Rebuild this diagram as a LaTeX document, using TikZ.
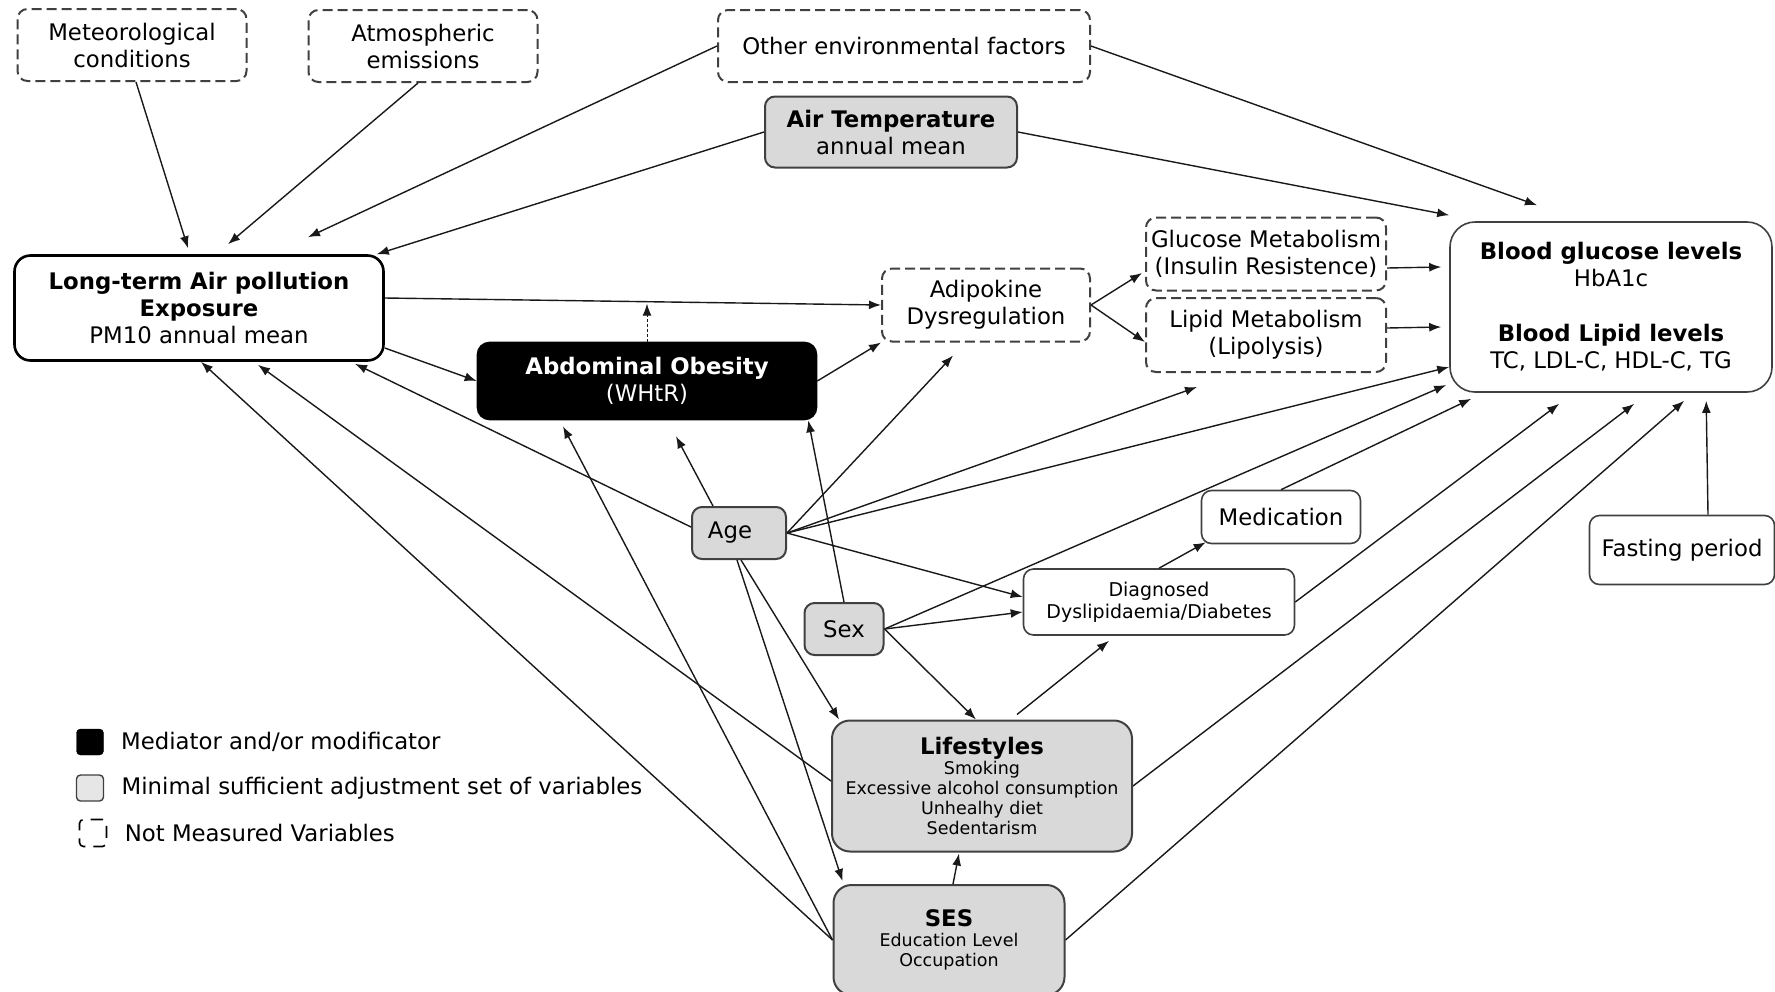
\documentclass[tikz,border=0pt]{standalone}
\usepackage{fontspec}
\setmainfont{DejaVu Sans}
\usetikzlibrary{arrows.meta,positioning,calc}
\definecolor{boxgrey}{HTML}{D9D9D9}
\definecolor{keygrey}{HTML}{E6E6E6}
\definecolor{edgegrey}{HTML}{404040}
\newcommand{\itemfont}{\fontsize{17.5}{20}\selectfont}
\newcommand{\titlefont}{\fontsize{22.8}{27}\selectfont}

\begin{document}
\begin{tikzpicture}[x=1pt, y=-1pt, font=\titlefont,
    var/.style={draw=edgegrey, line width=1.6pt, rounded corners=10pt, align=center, inner sep=0pt},
    adjvar/.style={var, fill=boxgrey, line width=2pt},
    unmeas/.style={var, line width=2pt, dash pattern=on 10pt off 5pt},
    arr/.style={-{Latex[length=12pt,width=9pt]}, line width=1.4pt, draw=black!90}]

	\useasboundingbox (0,0) rectangle (1775,991);

	% variables
	\node[unmeas, minimum width=229pt, minimum height=72pt] (met) at (132,45) {Meteorological\\conditions};
	\node[unmeas, minimum width=229pt, minimum height=72pt] (atm) at (423,46) {Atmospheric\\emissions};
	\node[unmeas, minimum width=372pt, minimum height=72pt] (other) at (904,46) {Other environmental factors};
	\node[adjvar, minimum width=252pt, minimum height=71pt] (temp) at (891,132) {\textbf{Air Temperature}\\annual mean};
	\node[var, draw=black, line width=2.6pt, rounded corners=16pt, minimum width=369pt, minimum height=105pt] (lt) at (199,308) {\textbf{Long-term Air pollution}\\\textbf{Exposure}\\PM10 annual mean};
	\node[var, fill=black, draw=black, text=white, rounded corners=12pt, minimum width=339pt, minimum height=77pt] (ao) at (647,381) {\textbf{Abdominal Obesity}\\(WHtR)};
	\node[unmeas, minimum width=208pt, minimum height=73pt] (adip) at (986,305) {Adipokine\\Dysregulation};
	\node[unmeas, minimum width=240pt, minimum height=73pt] (gm) at (1266,254) {Glucose Metabolism\\(Insulin Resistence)};
	\node[unmeas, minimum width=240pt, minimum height=74pt] (lm) at (1266,335) {Lipid Metabolism\\(Lipolysis)};
	\node[var, rounded corners=25pt, minimum width=322pt, minimum height=170pt] (blood) at (1611,307) {\textbf{Blood glucose levels}\\HbA1c\\[28pt]\textbf{Blood Lipid levels}\\TC, LDL-C, HDL-C, TG};
	\node[adjvar, minimum width=94pt, minimum height=52pt] (age) at (739,533) {Age\hspace*{18pt}};
	\node[adjvar, minimum width=79pt, minimum height=52pt] (sex) at (844,629) {Sex};
	\node[var, minimum width=159pt, minimum height=53pt] (med) at (1281,517) {Medication};
	\node[var, minimum width=271pt, minimum height=66pt, font=\fontsize{19}{22}\selectfont] (diag) at (1159,602) {Diagnosed\\Dyslipidaemia/Diabetes};
	\node[var, minimum width=185pt, minimum height=69pt] (fast) at (1682,550) {Fasting period};
	\node[adjvar, rounded corners=18pt, minimum width=300pt, minimum height=131pt, font=\itemfont] (life) at (982,786) {{\titlefont\textbf{Lifestyles}}\\Smoking\\Excessive alcohol consumption\\Unhealhy diet\\Sedentarism};
	\node[adjvar, rounded corners=18pt, minimum width=231pt, minimum height=110pt, font=\itemfont] (ses) at (949,940) {{\titlefont\textbf{SES}}\\Education Level\\Occupation};

	% key
	\node[draw=black, fill=black, rounded corners=4pt, minimum width=27pt, minimum height=26pt, inner sep=0pt] (keymed) at (90,742) {};
	\node[draw=edgegrey, fill=keygrey, line width=1.4pt, rounded corners=4pt, minimum width=27pt, minimum height=26pt, inner sep=0pt] (keyadj) at (90,788) {};
	\node[draw=black, line width=1.6pt, dash pattern=on 12pt off 8pt, rounded corners=4pt, minimum size=27pt, inner sep=0pt] (keyunm) at (93,833) {};
	\node[right=14pt of keymed] (keymedtxt) {Mediator and/or modificator};
	\node[right=14pt of keyadj] (keyadjtxt) {Minimal sufficient adjustment set of variables};
	\node[right=14pt of keyunm] (keyunmtxt) {Not Measured Variables};

	% exposure paths
	\draw[arr] ([xshift=4]met.south) -- ([xshift=-11,yshift=6]lt.north);
	\draw[arr] ([xshift=-5]atm.south) -- ([xshift=29,yshift=10]lt.north);
	\draw[arr] (other.west) -- ([xshift=109,yshift=17]lt.north);
	\draw[arr] (temp.west) -- ([xshift=-8]lt.north east);
	\draw[arr] (other.east) -- ([xshift=-74,yshift=16]blood.north);
	\draw[arr] (temp.east) -- ([yshift=6]blood.north west);
	\draw[arr] ([yshift=10]lt.east) -- (adip.west);
	\draw[arr] ([yshift=-40]lt.east) -- (ao.west);
	\coordinate (mod) at ([yshift=38]ao.north);
	\draw[arr, line width=1pt, densely dashed] (ao.north) -- (mod);
	\draw[arr] (ao.east) -- (adip.south west);
	\draw[arr] (adip.east) -- ([xshift=-3,yshift=-19]gm.west);
	\draw[arr] (adip.east) -- ([yshift=-7]lm.west);
	\draw[arr] ([yshift=-14]gm.east) -- ([xshift=-8,yshift=40]blood.west);
	\draw[arr] ([yshift=7]lm.east) -- ([xshift=-8,yshift=-20]blood.west);

	% age and sex
	\draw[arr] ([yshift=6]age.west) -- ([xshift=156,yshift=-2]lt.south);
	\draw[arr] ([xshift=-26]age.north) -- ([xshift=29,yshift=-16]ao.south);
	\draw[arr] (age.east) -- ([xshift=-33,yshift=-13]adip.south);
	\draw[arr] (age.east) -- ([xshift=-69,yshift=-14]lm.south);
	\draw[arr] (age.east) -- ([yshift=-60]blood.west);
	\draw[arr] (age.east) -- ([yshift=5]diag.west);
	\draw[arr] ([xshift=2]age.south) -- ([xshift=8]life.north west);
	\draw[arr] ([xshift=-2]age.south) -- ([xshift=10,yshift=3]ses.north west);
	\draw[arr] (sex.north) -- ([xshift=-9]ao.south east);
	\draw[arr] (sex.east) -- ([xshift=-3,yshift=-78]blood.west);
	\draw[arr] (sex.east) -- ([yshift=-10]diag.west);
	\draw[arr] (sex.east) -- ([xshift=-6]life.north);

	% clinical
	\draw[arr] (med.north) -- ([xshift=22,yshift=-6]blood.south west);
	\draw[arr] (diag.east) -- ([xshift=110,yshift=-11]blood.south west);
	\draw[arr] (diag.north) -- ([xshift=5,yshift=2]med.south west);
	\draw[arr] ([xshift=26]fast.north) -- ([xshift=257,yshift=-8]blood.south west);

	% lifestyles and ses
	\draw[arr] ([xshift=35,yshift=5]life.north) -- ([xshift=-50,yshift=-5]diag.south);
	\draw[arr] (life.east) -- ([xshift=185,yshift=-11]blood.south west);
	\draw[arr] ([yshift=5]life.west) -- ([xshift=59,yshift=-3]lt.south);
	\draw[arr] (ses.west) -- ([xshift=2]lt.south);
	\draw[arr] (ses.west) -- ([xshift=-84,yshift=-6]ao.south);
	\draw[arr] ([xshift=4]ses.north) -- ([xshift=-23,yshift=-1]life.south);
	\draw[arr] (ses.east) -- ([xshift=235,yshift=-8]blood.south west);
\end{tikzpicture}
\end{document}
